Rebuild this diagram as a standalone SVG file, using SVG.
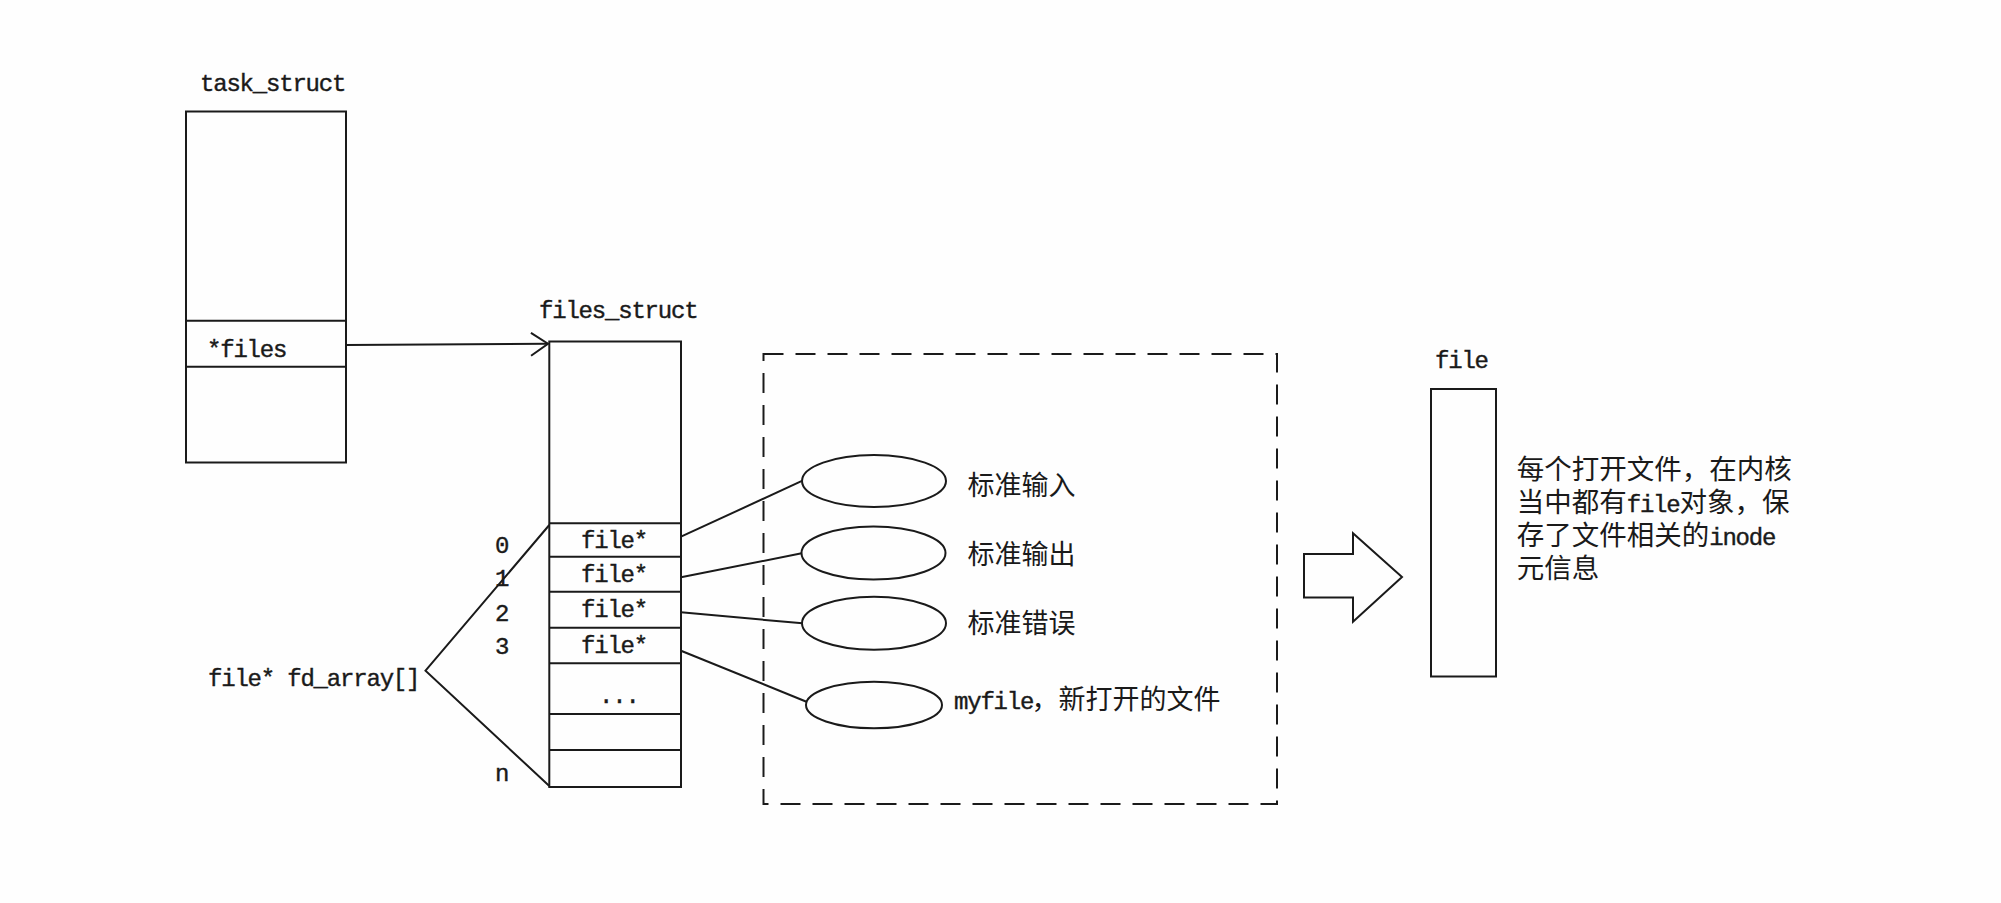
<svg xmlns="http://www.w3.org/2000/svg" width="2001" height="903" viewBox="0 0 2001 903">
  <defs>
    <style>
      .ln { fill: none; stroke: #1a1a1a; stroke-width: 2; }
      .box { fill: none; stroke: #1a1a1a; stroke-width: 2; }
      .mono { font-family: "Liberation Mono", "DejaVu Sans Mono", monospace; font-size: 24px; letter-spacing: -1.2px; fill: #1a1a1a; stroke: #1a1a1a; stroke-width: 0.4; }
      .cjk { font-family: "Noto Sans CJK SC", "Noto Sans", sans-serif; font-size: 27px; fill: #1a1a1a; }
      .note { font-family: "Noto Sans CJK SC", "Noto Sans", sans-serif; font-size: 27.5px; fill: #1a1a1a; }
      .ml { font-family: "Liberation Mono", "DejaVu Sans Mono", monospace; font-size: 24px; letter-spacing: -1.2px; stroke: #1a1a1a; stroke-width: 0.4; }
      .dash { fill: none; stroke: #1a1a1a; stroke-width: 2; stroke-dasharray: 20 12; }
    </style>
    <marker id="open" markerUnits="userSpaceOnUse" markerWidth="20" markerHeight="26" viewBox="0 0 20 26" refX="18" refY="12" orient="auto">
      <path d="M1,1 L18,12 L1,24" fill="none" stroke="#1a1a1a" stroke-width="2"/>
    </marker>
  </defs>
  <rect width="2001" height="903" fill="#fefefe"/>

  <g id="task_struct">
    <text class="mono" x="200" y="90.5">task_struct</text>
    <rect class="box" x="186" y="111.5" width="160" height="351"/>
    <line class="ln" x1="186" y1="320.7" x2="346" y2="320.7"/>
    <line class="ln" x1="186" y1="366.7" x2="346" y2="366.7"/>
    <text class="mono" x="207" y="357.3">*files</text>
  </g>

  <g id="files_struct">
    <text class="mono" x="539" y="318">files_struct</text>
    <rect class="box" x="549.3" y="341.5" width="131.7" height="445.5"/>
    <line class="ln" x1="549.3" y1="523.3" x2="681" y2="523.3"/>
    <line class="ln" x1="549.3" y1="556.7" x2="681" y2="556.7"/>
    <line class="ln" x1="549.3" y1="591.7" x2="681" y2="591.7"/>
    <line class="ln" x1="549.3" y1="627.7" x2="681" y2="627.7"/>
    <line class="ln" x1="549.3" y1="663.3" x2="681" y2="663.3"/>
    <line class="ln" x1="549.3" y1="714" x2="681" y2="714"/>
    <line class="ln" x1="549.3" y1="750" x2="681" y2="750"/>
    <text class="mono" x="581" y="548">file*</text>
    <text class="mono" x="581" y="581.7">file*</text>
    <text class="mono" x="581" y="617">file*</text>
    <text class="mono" x="581" y="653">file*</text>
    <text class="mono" x="599" y="703">...</text>
  </g>

  <g id="fd_index">
    <text class="mono" x="495" y="552.7">0</text>
    <text class="mono" x="495" y="586">1</text>
    <text class="mono" x="495" y="620.7">2</text>
    <text class="mono" x="495" y="654">3</text>
    <text class="mono" x="495" y="780.7">n</text>
  </g>

  <g id="fd_array">
    <text class="mono" x="208" y="685.5">file* fd_array[]</text>
    <polyline class="ln" points="549.3,525 425.5,670.7 549.3,786"/>
  </g>

  <g id="open_files">
    <rect class="dash" x="763.5" y="354" width="513.5" height="450"/>
  </g>

  <g id="stdin">
    <ellipse class="box" cx="874" cy="481" rx="72" ry="26"/>
    <text class="cjk" x="967.5" y="495">标准输入</text>
  </g>
  <g id="stdout">
    <ellipse class="box" cx="873.5" cy="553" rx="72" ry="26.5"/>
    <text class="cjk" x="967.5" y="563.5">标准输出</text>
  </g>
  <g id="stderr">
    <ellipse class="box" cx="874" cy="623.3" rx="72" ry="26.5"/>
    <text class="cjk" x="967.5" y="633">标准错误</text>
  </g>
  <g id="myfile">
    <ellipse class="box" cx="874" cy="705" rx="68" ry="23.3"/>
    <text class="mono" x="954" y="708.5">myfile</text>
    <text class="cjk" x="1031.4" y="708.5">，新打开的文件</text>
  </g>

  <g id="big_arrow">
    <polygon class="box" points="1304,554 1353,554 1353,533.3 1402,577 1353,621.7 1353,597.5 1304,597.5"/>
  </g>

  <g id="file">
    <text class="mono" x="1435" y="368">file</text>
    <rect class="box" x="1431" y="389" width="65" height="287.5"/>
  </g>

  <g id="note">
    <text class="note"><tspan x="1516.7" y="478.5">每个打开文件，在内核</tspan><tspan x="1516.7" y="511.5">当中都有</tspan><tspan class="ml" x="1626.7" y="511.5">file</tspan><tspan x="1679.5" y="511.5">对象，保</tspan><tspan x="1516.7" y="544.5">存了文件相关的</tspan><tspan class="ml" x="1709.2" y="544.5">inode</tspan><tspan x="1516.7" y="578">元信息</tspan></text>
  </g>

  <g id="connectors">
    <line class="ln" x1="346" y1="345" x2="548" y2="343.7" marker-end="url(#open)"/>
    <line class="ln" x1="681" y1="536.7" x2="802.5" y2="480.7"/>
    <line class="ln" x1="681" y1="577.3" x2="801.7" y2="553.3"/>
    <line class="ln" x1="681" y1="612.3" x2="802.5" y2="623.3"/>
    <line class="ln" x1="681" y1="650.7" x2="806.5" y2="701.7"/>
  </g>
</svg>
